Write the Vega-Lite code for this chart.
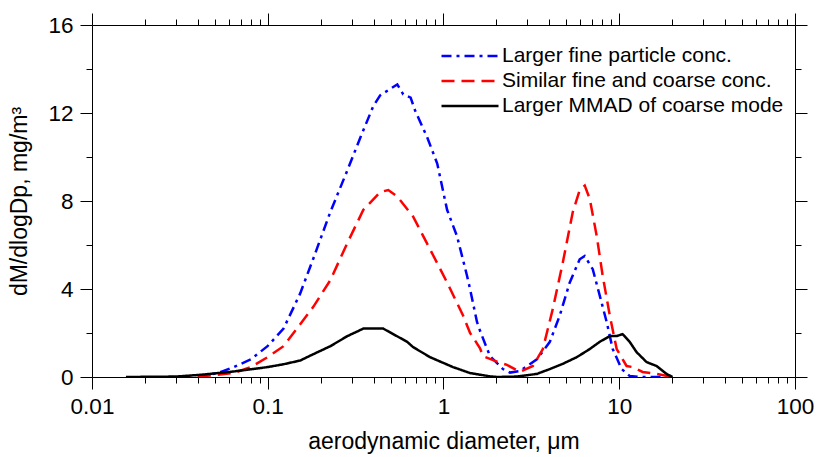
{
  "$schema": "https://vega.github.io/schema/vega-lite/v6.json",
  "autosize": {"type": "none"},
  "padding": {"left": 92, "top": 25, "right": 23, "bottom": 80},
  "width": 703,
  "height": 352,
  "background": "white",
  "config": {
    "font": "Liberation Sans",
    "view": {"stroke": null},
    "axis": {
      "domainColor": "black",
      "domainWidth": 1,
      "tickColor": "black",
      "tickWidth": 1,
      "grid": false,
      "labelFont": "Liberation Sans",
      "labelFontSize": 22.5,
      "labelColor": "black",
      "titleFont": "Liberation Sans",
      "titleFontSize": 23,
      "titleFontWeight": "normal",
      "titleColor": "black",
      "labelFlush": false,
      "labelOverlap": false
    },
    "legend": {
      "labelFont": "Liberation Sans",
      "labelFontSize": 21,
      "labelColor": "black",
      "labelLimit": 0
    }
  },
  "data": {
    "values": [
      {"s": "Larger fine particle conc.", "x": 0.040, "y": 0},
      {"s": "Larger fine particle conc.", "x": 0.052, "y": 0.18},
      {"s": "Larger fine particle conc.", "x": 0.064, "y": 0.45},
      {"s": "Larger fine particle conc.", "x": 0.080, "y": 0.8},
      {"s": "Larger fine particle conc.", "x": 0.0997, "y": 1.4},
      {"s": "Larger fine particle conc.", "x": 0.123, "y": 2.2},
      {"s": "Larger fine particle conc.", "x": 0.153, "y": 3.8},
      {"s": "Larger fine particle conc.", "x": 0.182, "y": 5.4},
      {"s": "Larger fine particle conc.", "x": 0.227, "y": 7.5},
      {"s": "Larger fine particle conc.", "x": 0.284, "y": 9.4},
      {"s": "Larger fine particle conc.", "x": 0.337, "y": 10.9},
      {"s": "Larger fine particle conc.", "x": 0.398, "y": 12.3},
      {"s": "Larger fine particle conc.", "x": 0.436, "y": 12.8},
      {"s": "Larger fine particle conc.", "x": 0.498, "y": 13.1},
      {"s": "Larger fine particle conc.", "x": 0.546, "y": 13.3},
      {"s": "Larger fine particle conc.", "x": 0.590, "y": 12.85},
      {"s": "Larger fine particle conc.", "x": 0.650, "y": 12.7},
      {"s": "Larger fine particle conc.", "x": 0.690, "y": 12.1},
      {"s": "Larger fine particle conc.", "x": 0.807, "y": 10.9},
      {"s": "Larger fine particle conc.", "x": 0.921, "y": 9.7},
      {"s": "Larger fine particle conc.", "x": 1.048, "y": 7.6},
      {"s": "Larger fine particle conc.", "x": 1.194, "y": 6.4},
      {"s": "Larger fine particle conc.", "x": 1.361, "y": 4.6},
      {"s": "Larger fine particle conc.", "x": 1.416, "y": 4.0},
      {"s": "Larger fine particle conc.", "x": 1.551, "y": 2.5},
      {"s": "Larger fine particle conc.", "x": 1.614, "y": 2.1},
      {"s": "Larger fine particle conc.", "x": 1.838, "y": 0.95},
      {"s": "Larger fine particle conc.", "x": 2.178, "y": 0.36},
      {"s": "Larger fine particle conc.", "x": 2.388, "y": 0.2},
      {"s": "Larger fine particle conc.", "x": 2.721, "y": 0.27},
      {"s": "Larger fine particle conc.", "x": 3.398, "y": 0.8},
      {"s": "Larger fine particle conc.", "x": 4.028, "y": 1.6},
      {"s": "Larger fine particle conc.", "x": 4.589, "y": 2.8},
      {"s": "Larger fine particle conc.", "x": 5.230, "y": 4.3},
      {"s": "Larger fine particle conc.", "x": 5.957, "y": 5.35},
      {"s": "Larger fine particle conc.", "x": 6.363, "y": 5.5},
      {"s": "Larger fine particle conc.", "x": 7.067, "y": 4.9},
      {"s": "Larger fine particle conc.", "x": 7.745, "y": 3.7},
      {"s": "Larger fine particle conc.", "x": 8.48, "y": 2.5},
      {"s": "Larger fine particle conc.", "x": 9.18, "y": 1.27},
      {"s": "Larger fine particle conc.", "x": 10.32, "y": 0.36},
      {"s": "Larger fine particle conc.", "x": 11.46, "y": 0.05},
      {"s": "Larger fine particle conc.", "x": 13.0, "y": 0},
      {"s": "Larger fine particle conc.", "x": 20.1, "y": 0},

      {"s": "Similar fine and coarse conc.", "x": 0.0308, "y": 0},
      {"s": "Similar fine and coarse conc.", "x": 0.040, "y": 0.02},
      {"s": "Similar fine and coarse conc.", "x": 0.052, "y": 0.1},
      {"s": "Similar fine and coarse conc.", "x": 0.064, "y": 0.18},
      {"s": "Similar fine and coarse conc.", "x": 0.080, "y": 0.45},
      {"s": "Similar fine and coarse conc.", "x": 0.0997, "y": 0.9},
      {"s": "Similar fine and coarse conc.", "x": 0.123, "y": 1.4},
      {"s": "Similar fine and coarse conc.", "x": 0.153, "y": 2.4},
      {"s": "Similar fine and coarse conc.", "x": 0.182, "y": 3.2},
      {"s": "Similar fine and coarse conc.", "x": 0.227, "y": 4.4},
      {"s": "Similar fine and coarse conc.", "x": 0.284, "y": 6.1},
      {"s": "Similar fine and coarse conc.", "x": 0.350, "y": 7.6},
      {"s": "Similar fine and coarse conc.", "x": 0.436, "y": 8.4},
      {"s": "Similar fine and coarse conc.", "x": 0.485, "y": 8.5},
      {"s": "Similar fine and coarse conc.", "x": 0.546, "y": 8.2},
      {"s": "Similar fine and coarse conc.", "x": 0.671, "y": 7.3},
      {"s": "Similar fine and coarse conc.", "x": 0.839, "y": 5.8},
      {"s": "Similar fine and coarse conc.", "x": 1.048, "y": 4.3},
      {"s": "Similar fine and coarse conc.", "x": 1.292, "y": 2.8},
      {"s": "Similar fine and coarse conc.", "x": 1.416, "y": 2.0},
      {"s": "Similar fine and coarse conc.", "x": 1.472, "y": 1.8},
      {"s": "Similar fine and coarse conc.", "x": 1.614, "y": 1.3},
      {"s": "Similar fine and coarse conc.", "x": 1.678, "y": 0.95},
      {"s": "Similar fine and coarse conc.", "x": 2.014, "y": 0.7},
      {"s": "Similar fine and coarse conc.", "x": 2.296, "y": 0.55},
      {"s": "Similar fine and coarse conc.", "x": 2.721, "y": 0.23},
      {"s": "Similar fine and coarse conc.", "x": 3.224, "y": 0.5},
      {"s": "Similar fine and coarse conc.", "x": 3.675, "y": 1.27},
      {"s": "Similar fine and coarse conc.", "x": 4.188, "y": 3.1},
      {"s": "Similar fine and coarse conc.", "x": 4.773, "y": 5.2},
      {"s": "Similar fine and coarse conc.", "x": 5.440, "y": 7.5},
      {"s": "Similar fine and coarse conc.", "x": 5.957, "y": 8.5},
      {"s": "Similar fine and coarse conc.", "x": 6.363, "y": 8.7},
      {"s": "Similar fine and coarse conc.", "x": 6.795, "y": 8.1},
      {"s": "Similar fine and coarse conc.", "x": 7.447, "y": 6.4},
      {"s": "Similar fine and coarse conc.", "x": 8.05, "y": 4.6},
      {"s": "Similar fine and coarse conc.", "x": 8.83, "y": 2.8},
      {"s": "Similar fine and coarse conc.", "x": 9.67, "y": 1.27},
      {"s": "Similar fine and coarse conc.", "x": 11.01, "y": 0.5},
      {"s": "Similar fine and coarse conc.", "x": 11.91, "y": 0.45},
      {"s": "Similar fine and coarse conc.", "x": 13.58, "y": 0.23},
      {"s": "Similar fine and coarse conc.", "x": 16.3, "y": 0.14},
      {"s": "Similar fine and coarse conc.", "x": 20.1, "y": 0},

      {"s": "Larger MMAD of coarse mode", "x": 0.0156, "y": 0},
      {"s": "Larger MMAD of coarse mode", "x": 0.030, "y": 0.02},
      {"s": "Larger MMAD of coarse mode", "x": 0.0416, "y": 0.1},
      {"s": "Larger MMAD of coarse mode", "x": 0.064, "y": 0.25},
      {"s": "Larger MMAD of coarse mode", "x": 0.0997, "y": 0.45},
      {"s": "Larger MMAD of coarse mode", "x": 0.123, "y": 0.58},
      {"s": "Larger MMAD of coarse mode", "x": 0.153, "y": 0.75},
      {"s": "Larger MMAD of coarse mode", "x": 0.182, "y": 1.04},
      {"s": "Larger MMAD of coarse mode", "x": 0.227, "y": 1.4},
      {"s": "Larger MMAD of coarse mode", "x": 0.284, "y": 1.86},
      {"s": "Larger MMAD of coarse mode", "x": 0.350, "y": 2.2},
      {"s": "Larger MMAD of coarse mode", "x": 0.454, "y": 2.2},
      {"s": "Larger MMAD of coarse mode", "x": 0.621, "y": 1.6},
      {"s": "Larger MMAD of coarse mode", "x": 0.671, "y": 1.36},
      {"s": "Larger MMAD of coarse mode", "x": 0.839, "y": 0.9},
      {"s": "Larger MMAD of coarse mode", "x": 1.133, "y": 0.45},
      {"s": "Larger MMAD of coarse mode", "x": 1.416, "y": 0.18},
      {"s": "Larger MMAD of coarse mode", "x": 1.838, "y": 0.03},
      {"s": "Larger MMAD of coarse mode", "x": 2.014, "y": 0},
      {"s": "Larger MMAD of coarse mode", "x": 2.6, "y": 0.02},
      {"s": "Larger MMAD of coarse mode", "x": 3.398, "y": 0.14},
      {"s": "Larger MMAD of coarse mode", "x": 4.028, "y": 0.36},
      {"s": "Larger MMAD of coarse mode", "x": 4.773, "y": 0.6},
      {"s": "Larger MMAD of coarse mode", "x": 5.728, "y": 0.9},
      {"s": "Larger MMAD of coarse mode", "x": 6.795, "y": 1.27},
      {"s": "Larger MMAD of coarse mode", "x": 7.745, "y": 1.6},
      {"s": "Larger MMAD of coarse mode", "x": 8.83, "y": 1.86},
      {"s": "Larger MMAD of coarse mode", "x": 9.67, "y": 1.86},
      {"s": "Larger MMAD of coarse mode", "x": 10.45, "y": 1.95},
      {"s": "Larger MMAD of coarse mode", "x": 11.46, "y": 1.6},
      {"s": "Larger MMAD of coarse mode", "x": 12.55, "y": 1.13},
      {"s": "Larger MMAD of coarse mode", "x": 14.30, "y": 0.68},
      {"s": "Larger MMAD of coarse mode", "x": 16.3, "y": 0.5},
      {"s": "Larger MMAD of coarse mode", "x": 18.58, "y": 0.14},
      {"s": "Larger MMAD of coarse mode", "x": 20.1, "y": 0}
    ]
  },
  "layer": [
    {
      "mark": {"type": "line", "strokeWidth": 2.5, "clip": true},
      "encoding": {
        "x": {
          "field": "x", "type": "quantitative",
          "scale": {"type": "log", "domain": [0.01, 100], "nice": false},
          "axis": {
            "orient": "bottom",
            "title": "aerodynamic diameter, μm",
            "titlePadding": 13,
            "labelPadding": 6,
            "values": [0.01,0.02,0.03,0.04,0.05,0.06,0.07,0.08,0.09,0.1,0.2,0.3,0.4,0.5,0.6,0.7,0.8,0.9,1,2,3,4,5,6,7,8,9,10,20,30,40,50,60,70,80,90,100],
            "labelExpr": "abs(log(datum.value)/LN10 - round(log(datum.value)/LN10)) < 0.001 ? format(datum.value, '~g') : ''",
            "tickSize": {"condition": {"test": "abs(log(datum.value)/LN10 - round(log(datum.value)/LN10)) < 0.001", "value": 12}, "value": 6}
          }
        },
        "y": {
          "field": "y", "type": "quantitative",
          "scale": {"domain": [0, 16], "nice": false},
          "axis": {
            "orient": "left",
            "title": "dM/dlogDp, mg/m³",
            "titlePadding": 16,
            "labelPadding": 7,
            "values": [0,2,4,6,8,10,12,14,16],
            "labelExpr": "datum.value % 4 == 0 ? datum.label : ''",
            "tickSize": {"condition": {"test": "datum.value % 4 == 0", "value": 12}, "value": 6}
          }
        },
        "color": {
          "field": "s", "type": "nominal",
          "scale": {
            "domain": ["Larger fine particle conc.", "Similar fine and coarse conc.", "Larger MMAD of coarse mode"],
            "range": ["#0000ff", "#ff0000", "#000000"]
          },
          "legend": {
            "title": null,
            "orient": "none",
            "legendX": 367,
            "legendY": 20,
            "symbolType": "M-3,0H3",
            "symbolSize": 361,
            "symbolStrokeWidth": 2.5,
            "symbolFillColor": "transparent",
            "labelOffset": 21,
            "rowPadding": 4,
            "padding": 0
          }
        },
        "strokeDash": {
          "field": "s", "type": "nominal",
          "scale": {
            "domain": ["Larger fine particle conc.", "Similar fine and coarse conc.", "Larger MMAD of coarse mode"],
            "range": [[10, 5, 3, 5], [13, 7], [1, 0]]
          },
          "legend": {
            "title": null,
            "orient": "none",
            "legendX": 367,
            "legendY": 20,
            "symbolType": "M-3,0H3",
            "symbolSize": 361,
            "symbolStrokeWidth": 2.5,
            "symbolFillColor": "transparent",
            "labelOffset": 21,
            "rowPadding": 4,
            "padding": 0
          }
        }
      }
    },
    {
      "mark": {"type": "line", "opacity": 0},
      "encoding": {
        "x": {
          "field": "x", "type": "quantitative",
          "axis": {
            "orient": "top",
            "title": null,
            "labels": false,
            "values": [0.01,0.02,0.03,0.04,0.05,0.06,0.07,0.08,0.09,0.1,0.2,0.3,0.4,0.5,0.6,0.7,0.8,0.9,1,2,3,4,5,6,7,8,9,10,20,30,40,50,60,70,80,90,100],
            "tickSize": {"condition": {"test": "abs(log(datum.value)/LN10 - round(log(datum.value)/LN10)) < 0.001", "value": 12}, "value": 6}
          }
        },
        "y": {
          "field": "y", "type": "quantitative",
          "axis": {
            "orient": "right",
            "title": null,
            "labels": false,
            "values": [0,2,4,6,8,10,12,14,16],
            "tickSize": {"condition": {"test": "datum.value % 4 == 0", "value": 12}, "value": 6}
          }
        }
      }
    }
  ],
  "resolve": {"axis": {"x": "independent", "y": "independent"}}
}
